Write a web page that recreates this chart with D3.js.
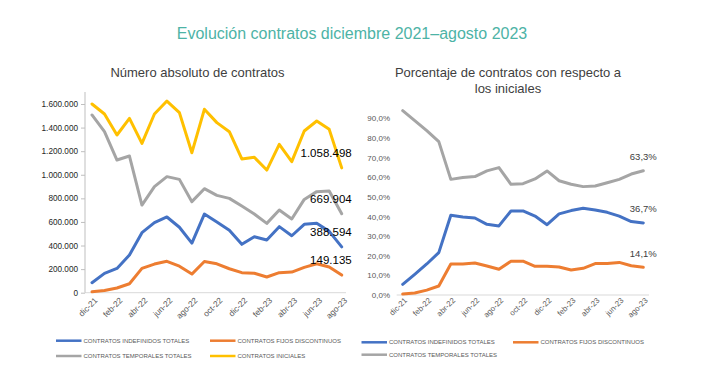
<!DOCTYPE html>
<html><head><meta charset="utf-8">
<script src="https://cdn.jsdelivr.net/npm/d3@7"></script>
<style>
html,body{margin:0;padding:0;background:#fff;}
svg{display:block;font-family:"Liberation Sans",Arial,sans-serif;}
</style></head>
<body><svg id="c" width="721" height="369"></svg>
<script>
const months = ["dic-21","ene-22","feb-22","mar-22","abr-22","may-22","jun-22","jul-22","ago-22","sep-22","oct-22","nov-22","dic-22","ene-23","feb-23","mar-23","abr-23","may-23","jun-23","jul-23","ago-23"];
const tickMonths = ["dic-21","feb-22","abr-22","jun-22","ago-22","oct-22","dic-22","feb-23","abr-23","jun-23","ago-23"];
const iniciales = [1600000,1515000,1337000,1478000,1266000,1515000,1625000,1527000,1187000,1555000,1442000,1365000,1134000,1148000,1040000,1258000,1111000,1371000,1456000,1385000,1058498];
const temporales = [1507000,1365000,1125000,1159000,743000,899000,984000,961000,772000,882000,825000,800000,735000,667000,588000,701000,625000,791000,857000,862000,669904];
const indefinidos = [85000,164000,206000,319000,509000,594000,642000,555000,420000,667000,600000,530000,410000,475000,447000,560000,483000,580000,588000,520000,388594];
const fijosDisc = [8000,18000,40000,76000,206000,243000,266000,225000,158000,264000,245000,203000,170000,165000,133000,170000,175000,215000,245000,218000,149135];
const pctTemporales = [93.9,88.8,83.7,78.1,58.9,59.9,60.3,63.2,64.9,56.4,56.7,59.1,63.2,58.2,56.4,55.2,55.5,57.2,58.9,61.6,63.3];
const pctIndefinidos = [5.4,10.5,15.8,21.6,40.6,39.7,39.2,36.0,35.2,42.8,42.8,40.2,35.8,41.3,43.0,44.2,43.3,42.1,40.2,37.4,36.7];
const pctFijos = [0.5,1.0,2.5,4.6,15.8,15.8,16.3,14.8,13.1,17.2,17.2,14.6,14.6,14.3,12.7,13.6,16.0,16.1,16.6,14.9,14.1];
const yTicksAbs = [0,200000,400000,600000,800000,1000000,1200000,1400000,1600000];
const yTicksPct = [0,10,20,30,40,50,60,70,80,90];
const legendNames = ["CONTRATOS INDEFINIDOS TOTALES","CONTRATOS FIJOS DISCONTINUOS","CONTRATOS TEMPORALES TOTALES","CONTRATOS INICIALES"];
const colors = {ind:"#4472C4", fij:"#ED7D31", tem:"#A5A5A5", ini:"#FFC000"};

const svg = d3.select("#c");
svg.append("rect").attr("width",721).attr("height",369).attr("fill","#fff");

svg.append("text").attr("x",352).attr("y",39).attr("text-anchor","middle")
  .attr("font-size",16).attr("fill","#4DB3A6").text("Evolución contratos diciembre 2021–agosto 2023");
svg.append("text").attr("x",197.5).attr("y",77).attr("text-anchor","middle")
  .attr("font-size",13).attr("fill","#404040").text("Número absoluto de contratos");
svg.append("text").attr("x",508).attr("y",77).attr("text-anchor","middle")
  .attr("font-size",13).attr("fill","#404040").text("Porcentaje de contratos con respecto a");
svg.append("text").attr("x",508).attr("y",93).attr("text-anchor","middle")
  .attr("font-size",13).attr("fill","#404040").text("los iniciales");

const fmtEs = v => d3.format(",")(v).replace(/,/g,".");
const line = (x,y) => d3.line().x((d,i)=>x(months[i])).y(d=>y(d));

// ---- Left chart
const xL = d3.scalePoint().domain(months).range([92,341.7]);
const yL = d3.scaleLinear().domain([0,1600000]).range([292.7,104]);
const gL = svg.append("g");
gL.append("line").attr("x1",85).attr("x2",346).attr("y1",292.7).attr("y2",292.7).attr("stroke","#d9d9d9");
gL.append("line").attr("x1",85).attr("x2",85).attr("y1",92).attr("y2",292.7).attr("stroke","#bfbfbf");
const yAxL = d3.axisLeft(yL).tickValues(yTicksAbs).tickSize(4).tickFormat(fmtEs);
const ga = gL.append("g").attr("transform","translate(85,0)").call(yAxL);
ga.select(".domain").remove();
ga.selectAll("line").attr("stroke","#bfbfbf");
ga.selectAll("text").attr("font-size",8.2).attr("fill","#262626").attr("x",-7).attr("font-family","Liberation Sans, Arial");
gL.selectAll(".xl").data(tickMonths).join("text")
  .attr("transform",d=>`translate(${xL(d)+4},299) rotate(-45)`)
  .attr("text-anchor","end").attr("dy","0.35em").attr("font-size",8.3).attr("fill","#595959").text(d=>d);
[[iniciales,colors.ini],[temporales,colors.tem],[indefinidos,colors.ind],[fijosDisc,colors.fij]].forEach(([arr,c])=>{
  gL.append("path").datum(arr).attr("d",line(xL,yL)).attr("fill","none").attr("stroke",c)
    .attr("stroke-width",3).attr("stroke-linejoin","round").attr("stroke-linecap","round");
});
[iniciales,temporales,indefinidos,fijosDisc].forEach(arr=>{
  const v = arr[arr.length-1];
  gL.append("text").attr("x",xL(months[months.length-1])+10).attr("y",yL(v)-15).attr("dy","0.35em")
    .attr("text-anchor","end").attr("font-size",11.5).attr("fill","#000").text(fmtEs(v));
});

// ---- Right chart
const xR = d3.scalePoint().domain(months).range([402.7,643.3]);
const yR = d3.scaleLinear().domain([0,90]).range([295,118.3]);
const gR = svg.append("g");
gR.append("line").attr("x1",396.7).attr("x2",649).attr("y1",295).attr("y2",295).attr("stroke","#d9d9d9");
const yAxR = d3.axisLeft(yR).tickValues(yTicksPct).tickSize(0).tickFormat(d=>d3.format(".1f")(d).replace(".",",")+"%");
const gb = gR.append("g").attr("transform","translate(390,0)").call(yAxR);
gb.select(".domain").remove();
gb.selectAll("text").attr("font-size",8).attr("fill","#595959").attr("x",0).attr("font-family","Liberation Sans, Arial");
gR.selectAll(".xr").data(tickMonths).join("text")
  .attr("transform",d=>`translate(${xR(d)+3},299) rotate(-45)`)
  .attr("text-anchor","end").attr("dy","0.35em").attr("font-size",7.8).attr("fill","#595959").text(d=>d);
[[pctTemporales,colors.tem],[pctIndefinidos,colors.ind],[pctFijos,colors.fij]].forEach(([arr,c])=>{
  gR.append("path").datum(arr).attr("d",line(xR,yR)).attr("fill","none").attr("stroke",c)
    .attr("stroke-width",3).attr("stroke-linejoin","round").attr("stroke-linecap","round");
});
[pctTemporales,pctIndefinidos,pctFijos].forEach(arr=>{
  const v = arr[arr.length-1];
  gR.append("text").attr("x",xR(months[months.length-1])).attr("y",yR(v)-14).attr("dy","0.35em")
    .attr("text-anchor","middle").attr("font-size",9.5).attr("fill","#404040").text(d3.format(".1f")(v).replace(".",",")+"%");
});

// ---- Legends
function legendItem(x,y,name,c){
  svg.append("line").attr("x1",x).attr("x2",x+25.5).attr("y1",y).attr("y2",y).attr("stroke",c).attr("stroke-width",2.5);
  svg.append("text").attr("x",x+27.5).attr("y",y).attr("dy","0.35em").attr("font-size",6).attr("fill","#595959").text(name);
}
legendItem(56,340.7,legendNames[0],colors.ind);
legendItem(210,340.7,legendNames[1],colors.fij);
legendItem(56,356,legendNames[2],colors.tem);
legendItem(210,356,legendNames[3],colors.ini);
legendItem(361.5,342.3,legendNames[0],colors.ind);
legendItem(513,342.3,legendNames[1],colors.fij);
legendItem(361.5,354.7,legendNames[2],colors.tem);
</script></body></html>
